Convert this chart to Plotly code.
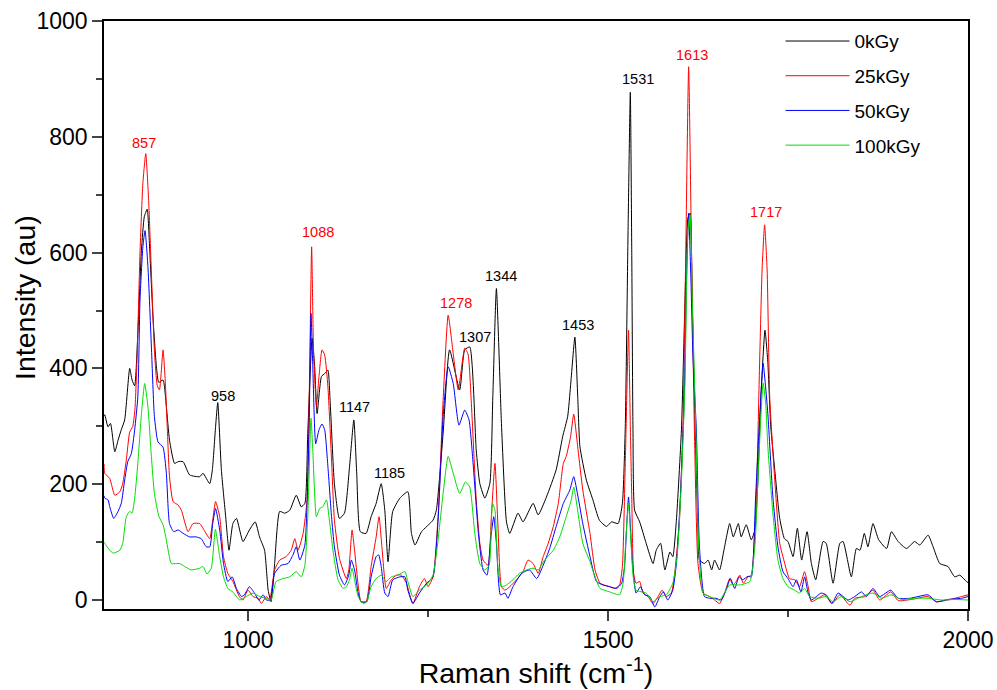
import plotly.graph_objects as go

# ---- data ----
x_0kgy = [800, 801, 805.6, 809, 815, 819.5, 824, 828.7, 835.7, 839, 842.6, 847, 852, 856, 860, 863.5, 868, 872.8, 876, 882,
          886.6, 891, 898, 903, 909.8, 919, 933, 937.5, 946.8, 950.5, 955, 958, 963, 969, 973.6, 979, 984, 993, 1002, 1010,
          1016, 1023, 1028, 1032, 1037, 1044, 1051, 1058, 1067, 1074, 1079, 1083, 1089, 1092.6, 1096, 1102, 1106.5, 1111, 1114, 1120,
          1127, 1134, 1141, 1147, 1151, 1156, 1164, 1171, 1178, 1185, 1190, 1194.5, 1201, 1211, 1222, 1227, 1232, 1241, 1257, 1261.6,
          1271, 1280, 1294, 1301, 1308, 1317, 1322, 1329, 1336, 1340, 1345, 1352, 1359, 1363.5, 1375, 1382, 1396, 1403, 1414.5, 1428,
          1437, 1444, 1448, 1454, 1458, 1461, 1470, 1479, 1488, 1498, 1505, 1514, 1520, 1524, 1528, 1531, 1533, 1534.7, 1537, 1544,
          1553, 1562.5, 1567, 1573, 1579, 1586, 1590, 1595, 1602, 1607, 1611, 1614, 1617, 1621, 1625, 1627, 1634, 1639, 1644, 1648,
          1655, 1661, 1669, 1674, 1681, 1685, 1692, 1699, 1704, 1708, 1712, 1718, 1722, 1726, 1731.6, 1738.5, 1745, 1750, 1757, 1763,
          1769, 1776.5, 1782.5, 1788.5, 1798.7, 1803, 1812.6, 1822, 1826.5, 1838, 1845, 1850, 1856, 1861, 1868, 1876, 1887, 1893.6, 1903, 1914.5,
          1926, 1933, 1944.6, 1951.5, 1960.8, 1972, 1981.6, 1988.5, 1997.8, 2000]
y_0kgy = [318, 320, 299, 305, 256, 276, 294, 311, 400, 380, 370, 461, 604, 662, 675, 604, 489, 403, 376, 380,
          334, 276, 236, 239, 239, 216, 213, 219, 201, 225, 300, 341, 225, 144, 86, 132, 141, 101, 121, 135,
          109, 86, 17, -3, 63, 153, 150, 155, 181, 161, 167, 288, 452, 403, 322, 386, 391, 397, 345, 201,
          141, 150, 230, 311, 219, 118, 115, 144, 167, 201, 155, 66, 153, 176, 187, 115, 95, 118, 138, 155,
          288, 432, 363, 432, 437, 259, 201, 176, 202, 350, 538, 305, 135, 115, 150, 135, 167, 147, 178, 225,
          282, 317, 370, 454, 350, 265, 207, 173, 138, 127, 135, 132, 167, 300, 650, 877, 600, 294, 155, 135,
          98, 63, 86, 98, 52, 83, 75, 138, 294, 520, 660, 668, 520, 300, 121, 69, 63, 69, 52, 69,
          52, 86, 132, 109, 132, 109, 130, 104, 121, 200, 340, 466, 410, 300, 225, 141, 106, 101, 75, 124,
          69, 118, 63, 35, 101, 98, 29, 98, 101, 40, 89, 86, 115, 92, 132, 104, 89, 118, 101, 89,
          101, 95, 112, 92, 63, 58, 40, 43, 32, 30]

x_25kgy = [800, 801, 808, 815, 822, 826, 831, 835.7, 840, 843, 846, 850, 854, 858, 862, 866, 870, 874, 877, 882,
           885, 888, 891, 896, 903, 907.5, 916.7, 923.6, 933, 937.5, 946.8, 951, 955, 960.7, 966, 972, 979, 988, 993, 1000,
           1007, 1014, 1018.5, 1025.5, 1030, 1037, 1044, 1053, 1060, 1065, 1069.5, 1076.5, 1082, 1085.7, 1088.4, 1091, 1095, 1098.6, 1102.8, 1106.5,
           1111, 1116, 1120, 1127, 1136.6, 1140, 1144.5, 1148, 1153, 1157, 1164, 1171, 1178, 1182, 1186, 1192, 1199, 1206, 1213, 1220,
           1229, 1238, 1245, 1250, 1257, 1264, 1271, 1278, 1285, 1292, 1301, 1305.6, 1310, 1317, 1322, 1326.5, 1333.4, 1338, 1343, 1347,
           1352, 1357, 1363.5, 1373, 1382, 1389, 1396, 1403, 1410, 1417, 1424, 1431, 1438, 1442, 1448, 1452.4, 1458.4, 1465, 1475, 1482,
           1489, 1502.4, 1509, 1516, 1520, 1524, 1528.5, 1531, 1533, 1535.6, 1539, 1544, 1548.6, 1555.6, 1562.5, 1569.5, 1575, 1581, 1588, 1592.6,
           1599, 1604, 1608, 1612, 1616, 1620, 1625, 1632, 1641, 1648, 1655, 1662, 1669, 1673.6, 1678, 1683, 1688, 1694.5, 1699, 1706,
           1710, 1714, 1717.5, 1721, 1724.6, 1731.6, 1738.5, 1745.5, 1752, 1759.4, 1766, 1773, 1778, 1782.5, 1791.8, 1801, 1811, 1822, 1836, 1842.7,
           1856.6, 1868, 1877.5, 1892.7, 1903, 1921.4, 1944.6, 1956, 1972, 1991, 2000]
y_25kgy = [235, 219, 210, 181, 187, 201, 242, 290, 300, 330, 420, 600, 720, 771, 690, 560, 430, 370, 363, 432,
           380, 294, 213, 170, 164, 155, 118, 132, 132, 124, 106, 138, 170, 144, 75, 46, 32, 6, 0, 17,
           6, 3, -6, 6, 0, 52, 69, 75, 86, 106, 86, 115, 173, 403, 610, 432, 334, 386, 432, 423,
           368, 242, 138, 72, 37, 52, 121, 86, 26, -3, -3, 58, 109, 144, 92, 20, 35, 43, 43, 29,
           -6, 23, 37, 23, 40, 144, 345, 492, 426, 363, 435, 425, 345, 173, 98, 69, 60, 144, 236, 132,
           23, 17, 23, 35, 49, 69, 63, 46, 75, 98, 127, 167, 236, 248, 282, 321, 259, 190, 115, 52,
           29, 23, 20, 26, 58, 236, 466, 300, 178, 46, 29, 32, 12, 6, -6, 6, 17, 6, 12, 46,
           132, 294, 600, 921, 600, 294, 63, 12, 6, 0, -6, 12, 37, 26, 32, 43, 29, 40, 43, 178,
           380, 570, 648, 570, 351, 207, 98, 63, 37, 35, 23, 49, 23, -3, 3, 9, -6, 9, -9, 3,
           6, 17, 0, 14, -1, 1, 6, -3, 0, 6, 9]

x_50kgy = [800, 801, 805.6, 808, 813.5, 819.5, 824, 828.7, 833, 838, 842.6, 847, 850, 854, 857, 861, 866, 870, 875, 882,
           886.6, 891, 896.8, 903, 910, 919, 928, 935, 942, 947, 951, 955, 960.7, 966, 972, 978, 984, 991, 995, 1002,
           1009, 1015, 1021, 1025.5, 1031, 1037, 1046, 1055.6, 1062.5, 1067, 1072, 1079, 1084.7, 1087.5, 1090, 1094, 1098.6, 1102.8, 1106.5, 1111,
           1116, 1120, 1127, 1134, 1140, 1143.5, 1148, 1153, 1157, 1165, 1171, 1178, 1181.5, 1185, 1190, 1194.5, 1201, 1211, 1218, 1222,
           1229, 1238, 1248, 1257, 1264, 1271, 1278, 1285, 1293, 1301, 1307, 1313, 1320, 1326.5, 1332, 1337, 1341.3, 1345, 1350.6, 1357,
           1361, 1368, 1380, 1391, 1401, 1410, 1419, 1428, 1438, 1447, 1452.4, 1458.4, 1465, 1475, 1484, 1493, 1502.4, 1512, 1519, 1523,
           1526, 1528.5, 1531, 1534, 1539, 1545, 1551, 1558, 1565, 1572, 1577, 1583, 1590, 1595, 1600.5, 1606, 1609, 1612, 1615, 1618,
           1622.7, 1627, 1634, 1641, 1650, 1657, 1664, 1670, 1676, 1682, 1687, 1694.5, 1699, 1705, 1710, 1715.4, 1718, 1722, 1729, 1736,
           1743, 1750, 1757, 1761.7, 1768, 1773, 1778, 1782.5, 1796, 1803, 1811, 1819.5, 1833.4, 1842.7, 1852, 1859, 1868, 1877.5, 1892.7, 1903,
           1919, 1930.7, 1944.6, 1956, 1972, 1991, 2000]
y_50kgy = [180, 176, 173, 161, 141, 153, 167, 207, 239, 253, 294, 351, 518, 610, 638, 576, 432, 317, 273, 264,
           219, 132, 118, 121, 115, 109, 109, 106, 92, 92, 132, 158, 121, 63, 32, 40, 20, 6, 9, 23,
           12, 0, 9, 0, 0, 46, 60, 63, 78, 92, 69, 95, 288, 495, 403, 270, 294, 304, 294, 230,
           144, 92, 43, 26, 43, 69, 52, 12, -3, -3, 40, 75, 78, 58, 12, 6, 35, 40, 40, 17,
           -6, 12, 29, 40, 138, 317, 403, 374, 302, 328, 311, 230, 115, 52, 43, 104, 144, 98, 9, 12,
           3, 23, 46, 52, 37, 60, 89, 127, 167, 190, 213, 178, 132, 75, 32, 26, 23, 20, 29, 58,
           130, 178, 130, 63, 12, 23, 9, 6, -12, 6, 14, 0, 17, 63, 178, 351, 550, 668, 560, 420,
           294, 92, 6, 3, 3, 0, 17, 37, 20, 40, 35, 41, 40, 178, 300, 409, 380, 322, 178, 92,
           49, 37, 23, 35, 14, 40, 12, 0, 12, 9, -6, 12, 0, 6, 14, 6, 20, 6, 17, 3,
           3, 6, 9, -3, 1, 3, 6]

x_100kgy = [800, 801, 808, 812.5, 822, 826, 831, 835.7, 839, 842.6, 847, 852, 856.5, 861, 865.8, 870, 876.4, 882, 886.6, 893.5,
            900.5, 905, 912, 921, 933, 937.5, 943, 949, 954.7, 960.7, 966, 972, 979, 988.5, 997.7, 1007, 1016, 1025.5, 1032, 1039,
            1048.6, 1058, 1067, 1074, 1079, 1083, 1087.5, 1090, 1095, 1099.6, 1104, 1109, 1113, 1118, 1125, 1132, 1136.6, 1141, 1144.5, 1148,
            1153, 1160, 1165, 1171, 1178, 1185, 1192, 1199, 1208, 1218, 1222, 1229, 1238, 1248, 1257, 1264, 1271, 1278, 1285, 1294,
            1302, 1308, 1315, 1322, 1329, 1335, 1339.5, 1343, 1347, 1352, 1359, 1368, 1377, 1387, 1396, 1403, 1412, 1424, 1433, 1442,
            1449, 1452.4, 1458.4, 1465, 1475, 1482, 1489, 1502.4, 1516, 1521, 1525, 1528.5, 1531, 1535, 1539, 1553, 1562.5, 1572, 1581, 1590,
            1596, 1602, 1607, 1611, 1614, 1617, 1622, 1626, 1632, 1641, 1655, 1669, 1683, 1697, 1704, 1709, 1715.4, 1719, 1722, 1729,
            1736, 1743, 1750, 1759.4, 1766, 1773, 1780, 1792, 1803, 1812.6, 1824, 1836, 1852, 1868, 1880, 1893.6, 1907.5, 1926, 1944.6, 1963,
            1981.6, 2000]
y_100kgy = [100, 98, 86, 81, 86, 98, 144, 153, 150, 176, 236, 322, 374, 334, 248, 184, 144, 130, 104, 63,
            63, 63, 58, 52, 55, 58, 45, 55, 122, 75, 40, 20, 14, 0, 6, 12, 6, 3, 0, 32,
            37, 40, 49, 40, 60, 144, 314, 259, 144, 158, 161, 173, 138, 86, 35, 20, 23, 35, 55, 35,
            6, -6, -3, 23, 37, 43, 32, 40, 43, 49, 32, 6, 17, 26, 43, 104, 184, 248, 219, 184,
            204, 195, 115, 63, 52, 60, 167, 155, 58, 23, 26, 35, 46, 52, 55, 52, 69, 86, 109, 144,
            173, 195, 150, 98, 66, 40, 20, 14, 9, 29, 110, 167, 120, 40, 17, 12, -3, 6, 9, 29,
            75, 207, 380, 640, 665, 520, 294, 92, 12, 6, 0, 26, 26, 32, 92, 230, 375, 340, 265, 150,
            69, 37, 23, 17, 12, 20, 6, 3, 6, -3, 6, -3, 6, 12, 3, 9, 1, 3, 3, 0,
            1, 0]

series_names = ["0kGy", "25kGy", "50kGy", "100kGy"]
series_colors = ["#000000", "#FF0000", "#0000FF", "#00DD00"]

peak_labels = ["857", "958", "1088", "1147", "1185", "1278", "1307", "1344", "1453", "1531", "1613", "1717"]
peak_label_x = [855, 965, 1097, 1148, 1197, 1289, 1315, 1351, 1458, 1541, 1616, 1720]
peak_label_y = [789, 352, 636, 333, 219, 513, 454, 560, 475, 900, 941, 670]
peak_label_colors = ["#FF0000", "#000000", "#FF0000", "#000000", "#000000", "#FF0000",
                     "#000000", "#000000", "#000000", "#000000", "#FF0000", "#FF0000"]

FONT = "Liberation Sans, Arial, sans-serif"

fig = go.Figure()
xs = [x_0kgy, x_25kgy, x_50kgy, x_100kgy]
ys = [y_0kgy, y_25kgy, y_50kgy, y_100kgy]
for name, col, xv, yv in zip(series_names, series_colors, xs, ys):
    fig.add_trace(go.Scatter(x=xv, y=yv, mode="lines", name=name, legendgroup=name,
                             line=dict(color=col, width=1, shape="spline", smoothing=0.5)))

for t, xv, yv, c in zip(peak_labels, peak_label_x, peak_label_y, peak_label_colors):
    fig.add_annotation(x=xv, y=yv, text=t, showarrow=False, xanchor="center", yanchor="middle",
                       font=dict(family=FONT, size=14.5, color=c))

# y-axis title (placed slightly above the axis centre, as in the reference)
fig.add_annotation(xref="paper", yref="paper", x=-0.0914, y=0.529, text="Intensity (au)",
                   textangle=-90, showarrow=False, xanchor="center", yanchor="middle",
                   font=dict(family=FONT, size=28.5, color="black"))

fig.update_layout(
    width=997, height=690,
    margin=dict(l=104, r=29, t=21, b=81, autoexpand=False),
    paper_bgcolor="white", plot_bgcolor="white",
    font=dict(family=FONT, color="black"),
    showlegend=True,
    legend=dict(x=0.783, y=0.998, xanchor="left", yanchor="top", bgcolor="rgba(0,0,0,0)",
                font=dict(family=FONT, size=19), tracegroupgap=7, itemwidth=64),
)
fig.update_xaxes(range=[800, 2000], tick0=1000, dtick=500, ticks="outside", ticklen=10, tickwidth=1.5,
                 showline=True, linecolor="black", linewidth=1.5, mirror=True, showgrid=False, zeroline=False,
                 automargin=False,
                 minor=dict(dtick=250, ticks="outside", ticklen=6, tickwidth=1.5, showgrid=False),
                 tickfont=dict(family=FONT, size=23),
                 title=dict(text="Raman shift (cm<sup>-1</sup>)", font=dict(family=FONT, size=28.5), standoff=8))
fig.update_yaxes(range=[-15.5, 1000], tick0=0, dtick=200, ticks="outside", ticklen=10, tickwidth=1.5,
                 showline=True, linecolor="black", linewidth=1.5, mirror=True, showgrid=False, zeroline=False,
                 automargin=False,
                 minor=dict(dtick=100, ticks="outside", ticklen=6, tickwidth=1.5, showgrid=False),
                 tickfont=dict(family=FONT, size=23))

fig.write_html("out.html", config={"displayModeBar": False},
               post_script="document.body.style.margin='0px';")
